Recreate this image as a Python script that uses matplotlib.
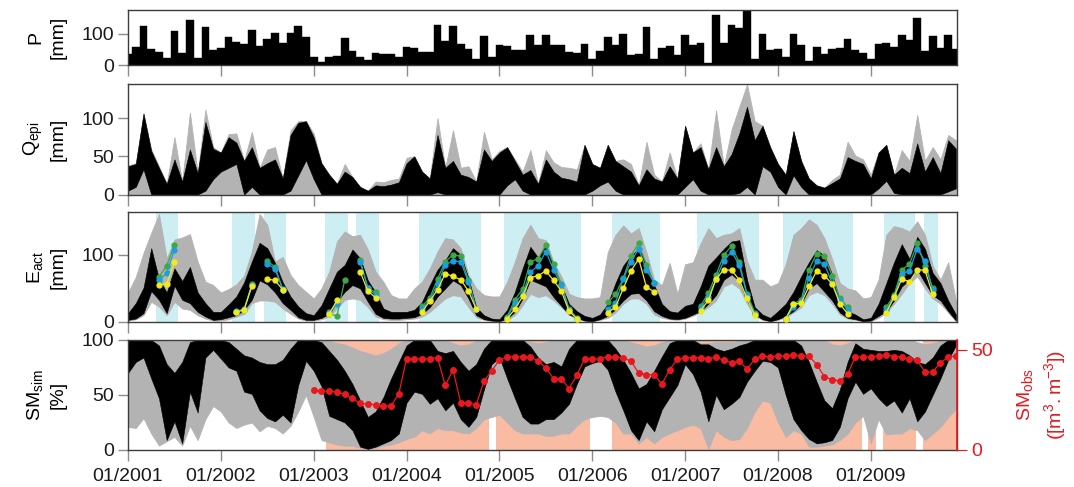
import matplotlib
matplotlib.use('Agg')
import matplotlib.pyplot as plt
import numpy as np

plt.rcParams['font.family'] = ['Liberation Sans', 'DejaVu Sans']
plt.rcParams['mathtext.fontset'] = 'custom'
plt.rcParams['mathtext.rm'] = 'Liberation Sans'
plt.rcParams['mathtext.it'] = 'Liberation Sans:italic'

# Monthly series, Jan 2001 - Dec 2009 (month index 0..107)
years = list(range(2001, 2010))
tick_labels = ['01/%d' % y for y in years]

# Precipitation [mm]
P = [35, 57, 124, 52, 40, 22, 107, 38, 142, 22, 120, 49,
     54, 89, 74, 68, 111, 60, 83, 101, 71, 101, 123, 89,
     27, 11, 27, 30, 85, 46, 27, 15, 38, 35, 35, 24,
     58, 54, 43, 40, 128, 78, 123, 68, 51, 18, 91, 26,
     65, 62, 47, 47, 95, 65, 95, 65, 65, 40, 38, 68,
     18, 44, 90, 64, 100, 33, 36, 120, 20, 55, 60, 33,
     95, 64, 71, 8, 160, 69, 127, 118, 176, 20, 100, 49,
     52, 24, 100, 65, 13, 58, 35, 52, 55, 82, 49, 38,
     18, 68, 71, 58, 95, 81, 150, 46, 93, 55, 95, 52]

# Epikarst outflow: all runs (max) and behavioural runs (min/max)
Q_all_hi = [38, 41, 106, 59, 37, 14, 75, 17, 107, 28, 111, 62,
            55, 79, 80, 44, 82, 35, 59, 62, 21, 84, 96, 96,
            80, 41, 26, 14, 40, 23, 10, 5, 17, 16, 19, 21,
            48, 50, 30, 21, 100, 35, 84, 35, 37, 17, 82, 46,
            57, 62, 46, 30, 58, 14, 58, 42, 36, 35, 33, 65,
            40, 35, 65, 44, 46, 40, 12, 69, 26, 17, 55, 21,
            90, 55, 67, 33, 110, 37, 85, 115, 144, 96, 90, 62,
            40, 26, 83, 44, 21, 12, 9, 19, 26, 69, 51, 46,
            26, 55, 65, 26, 58, 44, 104, 44, 62, 46, 78, 71]
Q_beh_hi = [37, 40, 106, 57, 35, 14, 46, 17, 59, 28, 95, 60,
            55, 75, 68, 44, 62, 35, 41, 46, 21, 78, 94, 96,
            75, 41, 26, 14, 30, 23, 10, 5, 12, 11, 13, 16,
            41, 50, 30, 21, 78, 35, 44, 26, 23, 17, 59, 44,
            55, 62, 44, 26, 32, 14, 46, 30, 22, 20, 17, 65,
            40, 35, 65, 44, 37, 30, 12, 33, 21, 17, 37, 21,
            90, 55, 62, 33, 62, 37, 53, 80, 115, 71, 90, 62,
            40, 26, 83, 44, 21, 12, 9, 15, 21, 49, 44, 40,
            21, 55, 65, 26, 35, 28, 67, 30, 49, 28, 71, 60]
Q_beh_lo = [5, 10, 33, 0, 0, 0, 0, 0, 0, 0, 5, 20,
            30, 35, 40, 0, 10, 0, 0, 0, 0, 5, 25, 45,
            20, 0, 0, 0, 0, 0, 0, 0, 0, 0, 0, 0,
            0, 0, 0, 0, 3, 0, 0, 0, 0, 0, 0, 0,
            0, 12, 20, 5, 0, 0, 0, 0, 0, 0, 0, 0,
            5, 12, 17, 5, 0, 0, 0, 0, 0, 0, 0, 0,
            10, 20, 5, 0, 0, 0, 0, 2, 10, 0, 37, 30,
            10, 0, 25, 10, 0, 0, 0, 0, 0, 0, 0, 0,
            0, 8, 18, 2, 0, 0, 0, 0, 0, 0, 4, 8]

# Actual evapotranspiration
E_all_hi = [44, 67, 103, 133, 161, 95, 123, 126, 131, 90, 60, 55,
            44, 49, 56, 69, 105, 161, 145, 90, 97, 70, 55, 45,
            35, 50, 75, 120, 135, 128, 130, 108, 75, 60, 40, 35,
            35, 50, 60, 80, 105, 125, 123, 110, 70, 50, 40, 38,
            38, 60, 90, 125, 145, 125, 122, 89, 68, 42, 37, 35,
            35, 37, 104, 130, 144, 132, 140, 104, 63, 55, 88, 42,
            86, 89, 117, 140, 125, 130, 132, 140, 91, 63, 63, 53,
            58, 86, 130, 140, 153, 145, 125, 94, 58, 50, 47, 35,
            37, 63, 130, 143, 140, 135, 150, 130, 84, 63, 89, 32]
E_beh_hi = [13, 28, 51, 110, 64, 44, 80, 61, 82, 44, 28, 15,
            15, 26, 38, 59, 90, 118, 110, 88, 59, 38, 23, 13,
            10, 25, 50, 75, 85, 108, 95, 62, 44, 20, 15, 15,
            15, 18, 30, 55, 78, 92, 110, 100, 65, 22, 10, 5,
            4, 18, 45, 80, 112, 96, 114, 81, 55, 27, 16, 9,
            6, 11, 27, 58, 84, 99, 109, 86, 55, 27, 16, 14,
            24, 27, 53, 84, 96, 109, 120, 122, 63, 22, 11, 6,
            16, 27, 45, 68, 89, 107, 99, 71, 32, 16, 11, 4,
            6, 27, 58, 89, 116, 94, 127, 109, 73, 58, 32, 11]
E_beh_lo = [3, 5, 13, 46, 33, 13, 54, 33, 28, 15, 8, 3,
            4, 7, 10, 18, 33, 62, 56, 44, 28, 18, 7, 3,
            3, 6, 12, 30, 45, 55, 50, 30, 12, 6, 5, 5,
            6, 7, 12, 22, 38, 50, 62, 55, 35, 10, 4, 2,
            1, 5, 15, 35, 63, 58, 53, 37, 24, 11, 6, 2,
            1, 4, 9, 19, 32, 42, 43, 32, 16, 9, 5, 4,
            6, 11, 16, 27, 40, 63, 71, 61, 32, 11, 4, 1,
            4, 9, 16, 27, 50, 58, 45, 32, 14, 6, 4, 1,
            2, 9, 16, 32, 53, 63, 78, 58, 40, 32, 16, 2]
E_all_lo = [2, 4, 10, 30, 23, 10, 30, 20, 18, 10, 5, 2,
            2, 4, 8, 12, 28, 32, 32, 30, 20, 12, 5, 2,
            2, 4, 8, 20, 33, 35, 33, 22, 8, 4, 3, 3,
            4, 5, 8, 15, 25, 35, 40, 38, 22, 7, 3, 1,
            1, 3, 10, 25, 42, 37, 40, 32, 22, 11, 5, 2,
            1, 3, 6, 14, 27, 35, 35, 27, 11, 6, 4, 3,
            5, 9, 15, 22, 32, 53, 58, 50, 27, 9, 3, 1,
            3, 7, 14, 22, 40, 45, 40, 27, 11, 5, 3, 1,
            1, 6, 14, 27, 42, 58, 68, 50, 35, 27, 14, 1]

# Observed evapotranspiration (three estimates), by campaign
E_obs_months = [[4, 5, 6], [14, 15, 16], [18, 19, 20], [26, 27, 28], [30, 31, 32],
                [38, 39, 40, 41, 42, 43, 44, 45],
                [49, 50, 51, 52, 53, 54, 55, 56, 57, 58],
                [62, 63, 64, 65, 66, 67, 68],
                [74, 75, 76, 77, 78, 79, 80, 81],
                [85, 86, 87, 88, 89, 90, 91, 92, 93],
                [98, 99, 100, 101, 102, 103, 104]]
E_obs_green = [[67, 84, 115], [15, 18, 56], [91, 82, 48], [12, 9, 62], [92, 51, 44],
               [23, 36, 64, 90, 100, 98, 62, 19],
               [8, 33, 49, 90, 94, 115, 86, 57, 19, 6],
               [29, 41, 65, 99, 117, 85, 58],
               [24, 43, 70, 100, 113, 89, 42, 14],
               [4, 27, 33, 78, 102, 98, 69, 35, 22],
               [22, 40, 78, 86, 117, 84, 50]]
E_obs_blue = [[62, 73, 108], [16, 19, 55], [87, 79, 49], [15, 26, np.nan], [90, 50, 40],
              [19, 33, 56, 85, 91, 90, 59, 19],
              [6, 28, 42, 74, 84, 105, 78, 55, 18, 5],
              [19, 28, 64, 90, 109, 78, 58],
              [21, 37, 64, 91, 105, 85, 40, 12],
              [4, 22, 30, 65, 91, 86, 58, 32, 18],
              [18, 37, 72, 76, 109, 91, 48]]
E_obs_yellow = [[55, 57, 89], [15, 18, 53], [64, 62, 48], [12, 32, np.nan], [75, 46, 36],
                [15, 31, 48, 72, 68, 63, 46, 19],
                [5, 19, 38, 66, 69, 76, 62, 46, 16, 5],
                [14, 22, 50, 76, 94, 52, 45],
                [17, 32, 64, 78, 77, 63, 35, 10],
                [5, 27, 28, 53, 76, 69, 57, 27, 12],
                [14, 37, 64, 60, 78, 77, 41]]
E_obs_periods = [(3.6, 6.5), (13.5, 16.4), (17.6, 20.4), (25.5, 28.4), (29.5, 32.4),
                 (37.6, 45.6), (48.6, 58.6), (62.6, 68.7), (73.6, 81.6),
                 (84.7, 93.7), (97.7, 101.7), (102.9, 104.7)]

# Simulated soil moisture [%]
SM_all_hi = [100, 100, 100, 100, 100, 99, 99, 99, 100, 100, 100, 100,
             100, 100, 100, 100, 100, 100, 100, 100, 100, 100, 100, 100,
             100, 100, 99, 97, 96, 93, 90, 88, 86, 88, 92, 97,
             100, 100, 100, 100, 100, 100, 97, 95, 96, 99, 100, 100,
             100, 100, 100, 100, 98, 97, 98, 100, 100, 100, 100, 100,
             100, 100, 100, 100, 100, 98, 96, 94, 95, 98, 100, 100,
             100, 100, 97, 97, 98, 98, 98, 99, 100, 100, 100, 100,
             100, 100, 100, 100, 100, 100, 100, 96, 95, 97, 100, 100,
             100, 100, 100, 100, 100, 100, 98, 96, 97, 100, 100, 100]
SM_beh_hi = [100, 100, 100, 100, 95, 78, 70, 80, 98, 100, 100, 100,
             100, 98, 92, 86, 84, 80, 78, 78, 82, 92, 100, 100,
             100, 98, 90, 82, 72, 60, 45, 30, 35, 48, 65, 80,
             95, 100, 100, 100, 90, 88, 90, 80, 72, 78, 92, 100,
             100, 100, 100, 100, 94, 84, 78, 80, 76, 92, 100, 100,
             100, 100, 100, 92, 82, 70, 56, 60, 72, 85, 97, 100,
             100, 100, 96, 96, 92, 90, 92, 95, 97, 100, 100, 100,
             100, 100, 100, 95, 80, 62, 45, 38, 55, 80, 97, 92,
             91, 90, 90, 91, 90, 86, 80, 78, 84, 95, 100, 100]
SM_beh_lo = [70, 80, 84, 65, 47, 9, 26, 6, 53, 34, 84, 91,
             83, 75, 72, 53, 51, 36, 29, 26, 32, 25, 59, 81,
             72, 58, 31, 28, 25, 18, 3, 1, 3, 6, 9, 15,
             43, 53, 51, 42, 47, 36, 43, 28, 21, 30, 55, 78,
             84, 65, 47, 30, 24, 24, 28, 28, 34, 42, 60, 76,
             79, 81, 73, 53, 36, 18, 9, 26, 17, 37, 48, 59,
             78, 69, 53, 26, 50, 37, 42, 48, 62, 72, 81, 80,
             75, 50, 28, 18, 10, 6, 7, 9, 21, 47, 62, 51,
             56, 47, 40, 45, 34, 47, 26, 35, 50, 65, 82, 95]
SM_all_lo = [21, 20, 29, 15, 4, 8, 12, 4, 22, 9, 28, 40,
             35, 25, 20, 23, 25, 17, 22, 20, 15, 22, 35, 50,
             30, 9, 7, 5, 4, 4, 2, 1, 2, 4, 5, 7,
             10, 12, 18, 15, 20, 18, 18, 16, 15, 20, 28, 30,
             32, 25, 18, 15, 15, 15, 13, 13, 15, 15, 22, 28,
             30, 31, 30, 25, 15, 15, 6, 12, 6, 12, 15, 18,
             21, 23, 20, 1, 18, 12, 9, 10, 20, 35, 45, 43,
             25, 12, 18, 15, 3, 3, 4, 5, 9, 15, 25, 31,
             6, 28, 14, 15, 15, 20, 18, 9, 15, 21, 30, 37]

# Observed soil moisture [m3/m3], from Jan 2003
SM_obs_start = 24
SM_obs = [29.8, 29.3, 29.5, 28.8, 27.9, 25.8, 23.3, 22.9, 22.6, 21.9, 22.1, 28.1,
          45.6, 45.6, 45.5, 45.6, 46.2, 32.3, 40.0, 23.6, 23.6, 22.5, 34.5, 39.5,
          45.0, 46.6, 46.6, 46.6, 46.6, 44.4, 41.1, 35.6, 35.6, 30.7, 37.3, 45.5,
          45.5, 45.5, 46.6, 46.6, 46.0, 44.4, 38.4, 37.6, 37.6, 32.9, 40.2, 45.3,
          46.2, 46.2, 46.2, 45.6, 46.5, 44.8, 43.6, 44.3, 40.5, 45.3, 47.0, 46.5,
          47.0, 47.0, 47.6, 47.0, 47.0, 42.7, 36.7, 35.0, 34.5, 37.9, 46.5, 46.5,
          46.5, 47.0, 47.6, 46.7, 46.5, 45.3, 44.8, 39.0, 39.0, 43.6, 46.5, 47.0]
SM_obs_periods = [(25.6, 46.6), (47.5, 59.65), (62.6, 94.8), (95.6, 96.7),
                  (97.6, 101.8), (102.8, 107.2)]

months = np.arange(len(P))
x_end = 107.2
fs = 14
gray = '#b3b3b3'
axis_col = '#3c3c3c'
tick_col = '#8c8c8c'

fig = plt.figure(figsize=(10.74, 4.87), dpi=100)
left, width = 0.1192, 0.7723
ax_p = fig.add_axes([left, 0.8665, width, 0.1135])
ax_q = fig.add_axes([left, 0.6006, width, 0.2274])
ax_e = fig.add_axes([left, 0.339, width, 0.2257])
ax_sm = fig.add_axes([left, 0.076, width, 0.226])


def style(ax, yticks, ylim, ylabel):
    ax.set_xlim(0, x_end)
    ax.set_ylim(*ylim)
    ax.set_yticks(yticks)
    ax.set_xticks(np.arange(0, 108, 12))
    ax.tick_params(direction='out', length=8, width=1, color=tick_col,
                   labelsize=fs, labelcolor='#1a1a1a', pad=3)
    ax.tick_params(axis='y', length=7)
    for s in ax.spines.values():
        s.set_color(axis_col)
        s.set_linewidth(1.0)
    ax.set_ylabel(ylabel, fontsize=fs, linespacing=1.35, labelpad=11)


# Precipitation
ax_p.bar(months, P, width=1.0, color='black', edgecolor='black', linewidth=0.3)
style(ax_p, [0, 100], (0, 176), 'P\n[mm]')
ax_p.set_xticklabels([])

# Epikarst outflow
ax_q.fill_between(months, 0, Q_all_hi, color=gray, linewidth=0.6, edgecolor=gray)
ax_q.fill_between(months, Q_beh_lo, Q_beh_hi, color='black', linewidth=0.4, edgecolor='black')
style(ax_q, [0, 50, 100], (0, 145), '$\\mathregular{Q_{epi}}$\n[mm]')
ax_q.set_xticklabels([])

# Evapotranspiration
for a, b in E_obs_periods:
    ax_e.axvspan(a, b, color='#cdeff4', linewidth=0, zorder=0)
ax_e.fill_between(months, E_all_lo, E_all_hi, color=gray, linewidth=0.6, edgecolor=gray, zorder=1)
ax_e.fill_between(months, E_beh_lo, E_beh_hi, color='black', linewidth=0.4, edgecolor='black', zorder=2)
for mm, g, b, y in zip(E_obs_months, E_obs_green, E_obs_blue, E_obs_yellow):
    ax_e.plot(mm, g, '-o', color='#3fa845', lw=0.9, ms=3.5, zorder=3)
    ax_e.plot(mm, b, '-o', color='#1aa0e0', lw=0.9, ms=3.5, zorder=4)
    ax_e.plot(mm, y, '-o', color='#f2ea1a', lw=0.9, ms=3.5, zorder=5)
style(ax_e, [0, 100], (0, 164), '$\\mathregular{E_{act}}$\n[mm]')
ax_e.set_xticklabels([])

# Soil moisture
for a, b in SM_obs_periods:
    ax_sm.axvspan(a, b, color='#f9bca3', linewidth=0, zorder=0)
ax_sm.fill_between(months, SM_all_lo, SM_all_hi, color=gray, linewidth=0.6, edgecolor=gray, zorder=1)
ax_sm.fill_between(months, SM_beh_lo, SM_beh_hi, color='black', linewidth=0.4, edgecolor='black', zorder=2)
style(ax_sm, [0, 50, 100], (0, 100), '$\\mathregular{SM_{sim}}$\n[%]')
ax_sm.set_xticklabels(tick_labels)
ax_sm.tick_params(axis='x', pad=5)

red = '#e8191e'
ax_r = ax_sm.twinx()
obs_months = np.arange(SM_obs_start, SM_obs_start + len(SM_obs))
ax_r.plot(obs_months, SM_obs, '-o', color=red, lw=0.9, ms=4)
ax_r.set_xlim(0, x_end)
ax_r.set_ylim(0, 55)
ax_r.set_yticks([0, 50])
ax_r.tick_params(axis='y', direction='out', length=7, color=red, labelcolor=red,
                 labelsize=fs, pad=3)
ax_r.spines['right'].set_color(red)
ax_r.spines['right'].set_linewidth(1.2)
for k in ('left', 'top', 'bottom'):
    ax_r.spines[k].set_visible(False)
ax_r.set_ylabel('$\\mathregular{SM_{obs}}$\n$\\mathregular{([m^3.m^{-3}])}$',
                fontsize=fs, color=red, linespacing=1.35, labelpad=16)

fig.savefig('out.png', dpi=100)
